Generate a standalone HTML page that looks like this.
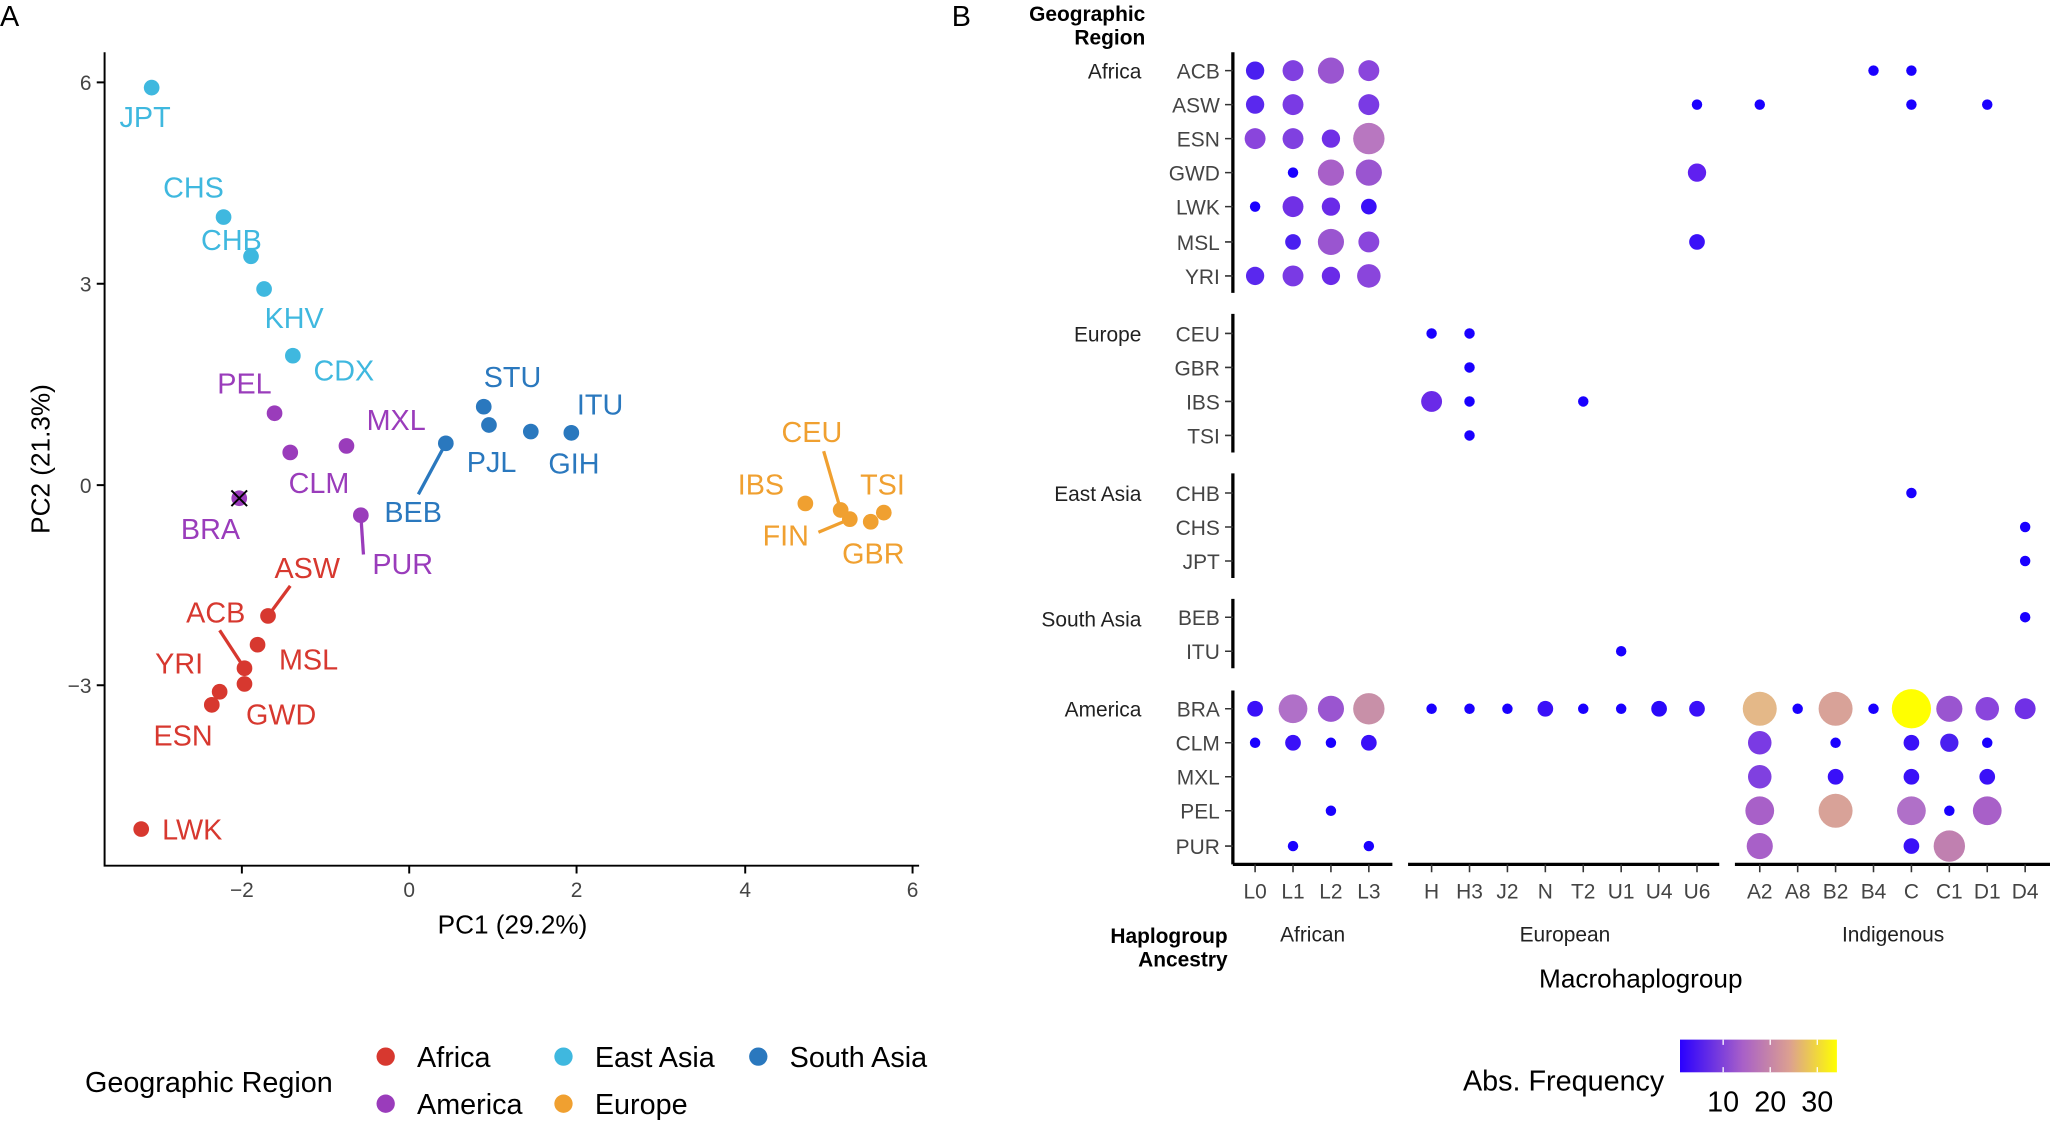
<!DOCTYPE html>
<html><head><meta charset="utf-8"><style>html,body{margin:0;padding:0;background:#fff}svg{display:block}text{font-family:"Liberation Sans",sans-serif}</style></head><body>
<svg width="2050" height="1122" viewBox="0 0 1568 858" preserveAspectRatio="none" xmlns="http://www.w3.org/2000/svg">
<text x="0" y="20" font-size="22">A</text>
<text x="728" y="20" font-size="22">B</text>
<!-- Panel A axes -->
<g stroke="#000" stroke-width="1.5" fill="none">
<path d="M80 40 V662 H703"/>
<path d="M74 63H80M74 217H80M74 371H80M74 524H80"/>
<path d="M185 662V668M313 662V668M441 662V668M570 662V668M698 662V668"/>
</g>
<g font-size="16" fill="#444" text-anchor="end">
<text x="70" y="69">6</text><text x="70" y="223">3</text><text x="70" y="377">0</text><text x="70" y="530">−3</text>
</g>
<g font-size="16" fill="#444" text-anchor="middle">
<text x="185" y="686">−2</text><text x="313" y="686">0</text><text x="441" y="686">2</text><text x="570" y="686">4</text><text x="698" y="686">6</text>
</g>
<text x="392" y="714" font-size="20" text-anchor="middle">PC1 (29.2%)</text>
<text transform="translate(38 351) rotate(-90)" font-size="20" text-anchor="middle">PC2 (21.3%)</text>
<!-- leader lines -->
<g stroke-width="2.5">
<line x1="341" y1="339" x2="320" y2="378" stroke="#2a78be"/>
<line x1="276" y1="394" x2="278" y2="424" stroke="#9a3cbb"/>
<line x1="643" y1="390" x2="630" y2="345" stroke="#f0a030"/>
<line x1="650" y1="397" x2="626" y2="407" stroke="#f0a030"/>
<line x1="205" y1="471" x2="222" y2="448" stroke="#d7382f"/>
<line x1="187" y1="511" x2="168" y2="482" stroke="#d7382f"/>
</g>
<g fill="#3fb8df"><circle cx="116" cy="67" r="6"/><circle cx="171" cy="166" r="6"/><circle cx="192" cy="196" r="6"/><circle cx="202" cy="221" r="6"/><circle cx="224" cy="272" r="6"/></g>
<g fill="#9a3cbb"><circle cx="210" cy="316" r="6"/><circle cx="222" cy="346" r="6"/><circle cx="265" cy="341" r="6"/><circle cx="183" cy="381" r="6"/><circle cx="276" cy="394" r="6"/></g>
<path d="M177 375L189 387M189 375L177 387" stroke="#000" stroke-width="1.5"/>
<g fill="#2a78be"><circle cx="341" cy="339" r="6"/><circle cx="370" cy="311" r="6"/><circle cx="374" cy="325" r="6"/><circle cx="406" cy="330" r="6"/><circle cx="437" cy="331" r="6"/></g>
<g fill="#f0a030"><circle cx="643" cy="390" r="6"/><circle cx="616" cy="385" r="6"/><circle cx="650" cy="397" r="6"/><circle cx="666" cy="399" r="6"/><circle cx="676" cy="392" r="6"/></g>
<g fill="#d7382f"><circle cx="205" cy="471" r="6"/><circle cx="197" cy="493" r="6"/><circle cx="187" cy="511" r="6"/><circle cx="168" cy="529" r="6"/><circle cx="187" cy="523" r="6"/><circle cx="162" cy="539" r="6"/><circle cx="108" cy="634" r="6"/></g>
<g font-size="22" text-anchor="middle">
<g fill="#3fb8df"><text x="111" y="97">JPT</text><text x="148" y="151">CHS</text><text x="177" y="191">CHB</text><text x="225" y="251">KHV</text><text x="263" y="291">CDX</text></g>
<g fill="#9a3cbb"><text x="187" y="301">PEL</text><text x="303" y="329">MXL</text><text x="244" y="377">CLM</text><text x="161" y="412">BRA</text><text x="308" y="439">PUR</text></g>
<g fill="#2a78be"><text x="392" y="296">STU</text><text x="459" y="317">ITU</text><text x="376" y="361">PJL</text><text x="439" y="362">GIH</text><text x="316" y="399">BEB</text></g>
<g fill="#f0a030"><text x="621" y="338">CEU</text><text x="582" y="378">IBS</text><text x="675" y="378">TSI</text><text x="601" y="417">FIN</text><text x="668" y="431">GBR</text></g>
<g fill="#d7382f"><text x="235" y="442">ASW</text><text x="165" y="476">ACB</text><text x="137" y="515">YRI</text><text x="236" y="512">MSL</text><text x="215" y="554">GWD</text><text x="140" y="570">ESN</text><text x="147" y="642">LWK</text></g>
</g>
<!-- legend A -->
<text x="65" y="835" font-size="22">Geographic Region</text>
<circle cx="295" cy="808" r="7" fill="#d7382f"/><text x="319" y="816" font-size="22">Africa</text>
<circle cx="431" cy="808" r="7" fill="#3fb8df"/><text x="455" y="816" font-size="22">East Asia</text>
<circle cx="580" cy="808" r="7" fill="#2a78be"/><text x="604" y="816" font-size="22">South Asia</text>
<circle cx="295" cy="844" r="7" fill="#9a3cbb"/><text x="319" y="852" font-size="22">America</text>
<circle cx="431" cy="844" r="7" fill="#f0a030"/><text x="455" y="852" font-size="22">Europe</text>
<!-- Panel B -->
<text x="876" y="16" font-size="16" font-weight="bold" text-anchor="end">Geographic</text>
<text x="876" y="34" font-size="16" font-weight="bold" text-anchor="end">Region</text>
<g stroke="#000" stroke-width="2.5" fill="none">
<path d="M943 40V224M943 240V346M943 362V442M943 458V511M943 528V661"/>
<path d="M943 661H1065M1077 661H1315M1327 661H1568"/>
</g>
<g stroke="#333" stroke-width="1.2">
<path d="M937 54H943M937 80H943M937 106H943M937 132H943M937 158H943M937 185H943M937 211H943M937 255H943M937 281H943M937 307H943M937 333H943M937 377H943M937 403H943M937 429H943M937 472H943M937 498H943M937 542H943M937 568H943M937 594H943M937 620H943M937 647H943"/>
<path d="M960 661v6M989 661v6M1018 661v6M1047 661v6M1095 661v6M1124 661v6M1153 661v6M1182 661v6M1211 661v6M1240 661v6M1269 661v6M1298 661v6M1346 661v6M1375 661v6M1404 661v6M1433 661v6M1462 661v6M1491 661v6M1520 661v6M1549 661v6"/>
</g>
<g font-size="16" fill="#444" text-anchor="end">
<text x="933" y="60">ACB</text><text x="933" y="86">ASW</text><text x="933" y="112">ESN</text><text x="933" y="138">GWD</text><text x="933" y="164">LWK</text><text x="933" y="191">MSL</text><text x="933" y="217">YRI</text>
<text x="933" y="261">CEU</text><text x="933" y="287">GBR</text><text x="933" y="313">IBS</text><text x="933" y="339">TSI</text>
<text x="933" y="383">CHB</text><text x="933" y="409">CHS</text><text x="933" y="435">JPT</text>
<text x="933" y="478">BEB</text><text x="933" y="504">ITU</text>
<text x="933" y="548">BRA</text><text x="933" y="574">CLM</text><text x="933" y="600">MXL</text><text x="933" y="626">PEL</text><text x="933" y="653">PUR</text>
</g>
<g font-size="16" fill="#222" text-anchor="end">
<text x="873" y="60">Africa</text><text x="873" y="261">Europe</text><text x="873" y="383">East Asia</text><text x="873" y="479">South Asia</text><text x="873" y="548">America</text>
</g>
<g font-size="16" fill="#444" text-anchor="middle">
<text x="960" y="687">L0</text><text x="989" y="687">L1</text><text x="1018" y="687">L2</text><text x="1047" y="687">L3</text>
<text x="1095" y="687">H</text><text x="1124" y="687">H3</text><text x="1153" y="687">J2</text><text x="1182" y="687">N</text><text x="1211" y="687">T2</text><text x="1240" y="687">U1</text><text x="1269" y="687">U4</text><text x="1298" y="687">U6</text>
<text x="1346" y="687">A2</text><text x="1375" y="687">A8</text><text x="1404" y="687">B2</text><text x="1433" y="687">B4</text><text x="1462" y="687">C</text><text x="1491" y="687">C1</text><text x="1520" y="687">D1</text><text x="1549" y="687">D4</text>
</g>
<g font-size="16" fill="#222" text-anchor="middle"><text x="1004" y="720">African</text><text x="1197" y="720">European</text><text x="1448" y="720">Indigenous</text></g>
<text x="939" y="721" font-size="16" font-weight="bold" text-anchor="end">Haplogroup</text>
<text x="939" y="739" font-size="16" font-weight="bold" text-anchor="end">Ancestry</text>
<text x="1255" y="755" font-size="20" text-anchor="middle">Macrohaplogroup</text>
<!-- dots -->
<g>
<circle cx="960" cy="54" r="7" fill="#4a1ff0"/><circle cx="989" cy="54" r="8" fill="#8040e0"/><circle cx="1018" cy="54" r="10" fill="#9a55d0"/><circle cx="1047" cy="54" r="8" fill="#8a45dc"/><circle cx="1433" cy="54" r="4" fill="#1a00ff"/><circle cx="1462" cy="54" r="4" fill="#1a00ff"/>
<circle cx="960" cy="80" r="7" fill="#5a28ee"/><circle cx="989" cy="80" r="8" fill="#7a3ae4"/><circle cx="1047" cy="80" r="8" fill="#7a3ae4"/><circle cx="1298" cy="80" r="4" fill="#1a00ff"/><circle cx="1346" cy="80" r="4" fill="#1a00ff"/><circle cx="1462" cy="80" r="4" fill="#1a00ff"/><circle cx="1520" cy="80" r="4" fill="#1a00ff"/>
<circle cx="960" cy="106" r="8" fill="#8a45dc"/><circle cx="989" cy="106" r="8" fill="#8040e0"/><circle cx="1018" cy="106" r="7" fill="#7030e6"/><circle cx="1047" cy="106" r="12" fill="#b877c0"/>
<circle cx="989" cy="132" r="4" fill="#1a00ff"/><circle cx="1018" cy="132" r="10" fill="#a860c8"/><circle cx="1047" cy="132" r="10" fill="#9a55d0"/><circle cx="1298" cy="132" r="7" fill="#6020f0"/>
<circle cx="960" cy="158" r="4" fill="#1a00ff"/><circle cx="989" cy="158" r="8" fill="#7030e6"/><circle cx="1018" cy="158" r="7" fill="#6a2ae8"/><circle cx="1047" cy="158" r="6" fill="#3a10f8"/>
<circle cx="989" cy="185" r="6" fill="#4a1ff0"/><circle cx="1018" cy="185" r="10" fill="#9a55d0"/><circle cx="1047" cy="185" r="8" fill="#8a45dc"/><circle cx="1298" cy="185" r="6" fill="#3a10f8"/>
<circle cx="960" cy="211" r="7" fill="#5a28ee"/><circle cx="989" cy="211" r="8" fill="#7a3ae4"/><circle cx="1018" cy="211" r="7" fill="#6a2ae8"/><circle cx="1047" cy="211" r="9" fill="#8a45dc"/>
<circle cx="1095" cy="255" r="4" fill="#1a00ff"/><circle cx="1124" cy="255" r="4" fill="#1a00ff"/>
<circle cx="1124" cy="281" r="4" fill="#1a00ff"/>
<circle cx="1095" cy="307" r="8" fill="#6a2ae8"/><circle cx="1124" cy="307" r="4" fill="#1a00ff"/><circle cx="1211" cy="307" r="4" fill="#1a00ff"/>
<circle cx="1124" cy="333" r="4" fill="#1a00ff"/>
<circle cx="1462" cy="377" r="4" fill="#1a00ff"/><circle cx="1549" cy="403" r="4" fill="#1a00ff"/><circle cx="1549" cy="429" r="4" fill="#1a00ff"/>
<circle cx="1549" cy="472" r="4" fill="#1a00ff"/><circle cx="1240" cy="498" r="4" fill="#1a00ff"/>
<circle cx="960" cy="542" r="6" fill="#3a10f8"/><circle cx="989" cy="542" r="11" fill="#b070c8"/><circle cx="1018" cy="542" r="10" fill="#9a55d0"/><circle cx="1047" cy="542" r="12" fill="#c890a8"/>
<circle cx="1095" cy="542" r="4" fill="#1a00ff"/><circle cx="1124" cy="542" r="4" fill="#1a00ff"/><circle cx="1153" cy="542" r="4" fill="#1a00ff"/><circle cx="1182" cy="542" r="6" fill="#3a10f8"/><circle cx="1211" cy="542" r="4" fill="#1a00ff"/><circle cx="1240" cy="542" r="4" fill="#1a00ff"/><circle cx="1269" cy="542" r="6" fill="#2a08fa"/><circle cx="1298" cy="542" r="6" fill="#3a10f8"/>
<circle cx="1346" cy="542" r="13" fill="#e4b888"/><circle cx="1375" cy="542" r="4" fill="#1a00ff"/><circle cx="1404" cy="542" r="13" fill="#d8a298"/><circle cx="1433" cy="542" r="4" fill="#1a00ff"/><circle cx="1462" cy="542" r="15" fill="#ffff00"/><circle cx="1491" cy="542" r="10" fill="#9a55d0"/><circle cx="1520" cy="542" r="9" fill="#8a45dc"/><circle cx="1549" cy="542" r="8" fill="#7030e6"/>
<circle cx="960" cy="568" r="4" fill="#1a00ff"/><circle cx="989" cy="568" r="6" fill="#3a10f8"/><circle cx="1018" cy="568" r="4" fill="#1a00ff"/><circle cx="1047" cy="568" r="6" fill="#3a10f8"/><circle cx="1346" cy="568" r="9" fill="#7a3ae4"/><circle cx="1404" cy="568" r="4" fill="#1a00ff"/><circle cx="1462" cy="568" r="6" fill="#3a10f8"/><circle cx="1491" cy="568" r="7" fill="#4a1ff0"/><circle cx="1520" cy="568" r="4" fill="#1a00ff"/>
<circle cx="1346" cy="594" r="9" fill="#8040e0"/><circle cx="1404" cy="594" r="6" fill="#3a10f8"/><circle cx="1462" cy="594" r="6" fill="#3a10f8"/><circle cx="1520" cy="594" r="6" fill="#3a10f8"/>
<circle cx="1018" cy="620" r="4" fill="#1a00ff"/><circle cx="1346" cy="620" r="11" fill="#a860c8"/><circle cx="1404" cy="620" r="13" fill="#d8a298"/><circle cx="1462" cy="620" r="11" fill="#b070c8"/><circle cx="1491" cy="620" r="4" fill="#1a00ff"/><circle cx="1520" cy="620" r="11" fill="#a860c8"/>
<circle cx="989" cy="647" r="4" fill="#1a00ff"/><circle cx="1047" cy="647" r="4" fill="#1a00ff"/><circle cx="1346" cy="647" r="10" fill="#a860c8"/><circle cx="1462" cy="647" r="6" fill="#3a10f8"/><circle cx="1491" cy="647" r="12" fill="#c080b0"/>
</g>
<!-- colorbar -->
<defs><linearGradient id="cb" x1="0" x2="1" y1="0" y2="0"><stop offset="0" stop-color="#2a00ff"/><stop offset="0.4" stop-color="#a860c8"/><stop offset="0.7" stop-color="#dca090"/><stop offset="1" stop-color="#ffff00"/></linearGradient></defs>
<rect x="1285" y="795" width="120" height="25" fill="url(#cb)"/>
<g stroke="#fff" stroke-width="1"><path d="M1318 795v4M1318 816v4M1354 795v4M1354 816v4M1390 795v4M1390 816v4"/></g>
<text x="1273" y="834" font-size="22" text-anchor="end">Abs. Frequency</text>
<g font-size="22" text-anchor="middle"><text x="1318" y="850">10</text><text x="1354" y="850">20</text><text x="1390" y="850">30</text></g>
</svg>
</body></html>
